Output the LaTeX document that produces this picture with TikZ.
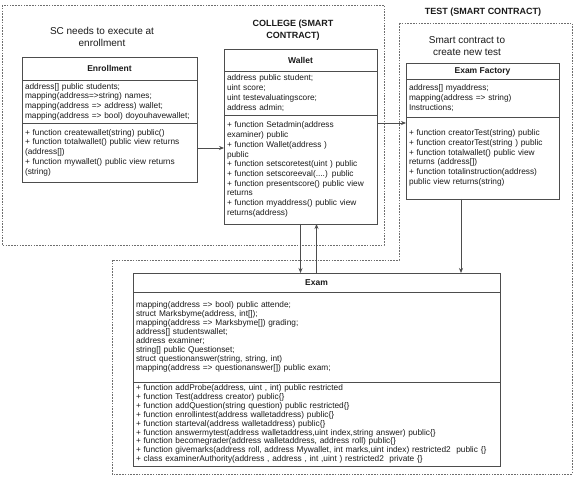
\documentclass[tikz,border=0pt]{standalone}
\usepackage{fontspec}
\setmainfont{Liberation Sans}
\usetikzlibrary{arrows.meta, positioning}
\definecolor{linegray}{HTML}{4D4D4D}
\definecolor{framegray}{HTML}{6E6E6E}
\definecolor{inkgray}{HTML}{1A1A1A}

\begin{document}
\begin{tikzpicture}[
    x=1pt, y=-1pt,
    classhead/.style={
        rectangle, draw=linegray, line width=0.8pt, outer sep=0pt, inner sep=0pt,
        minimum width=#1, anchor=north west, text=inkgray,
        font=\bfseries\fontsize{8.5}{10}\selectfont
    },
    classpart/.style={
        rectangle, draw=linegray, line width=0.8pt, outer sep=0pt,
        inner xsep=3pt, inner ysep=2pt, text width=#1, align=left, text=inkgray,
        font=\fontsize{8.3}{9.7}\selectfont
    },
    notetext/.style={font=\fontsize{10}{11.5}\selectfont, align=center, text=inkgray},
    contracttitle/.style={font=\bfseries\fontsize{9}{11.5}\selectfont, align=center, text=inkgray},
    contractframe/.style={draw=framegray, line width=0.7pt, dash pattern=on 1.6pt off 1.2pt},
    link/.style={-{Stealth[length=5pt, width=4pt]}, line width=0.8pt, draw=linegray},
]
\useasboundingbox (0,0) rectangle (574,492);

% Contract frames
\draw[contractframe] (2,5) rectangle (384,245);
\draw[contractframe] (399,23) -- (572,23) -- (572,474) -- (112,474) -- (112,260) -- (399,260) -- cycle;

% Titles
\node[notetext] (enrollNote) at (102,37) {SC needs to execute at\\enrollment};
\node[contracttitle] (collegeTitle) at (293,30) {COLLEGE (SMART\\CONTRACT)};
\node[contracttitle] (testTitle) at (483,12) {TEST (SMART CONTRACT)};
\node[notetext] (factNote) at (467,46) {Smart contract to\\create new test};

% Enrollment
\node[classhead=175pt, minimum height=23pt] (enrollHead) at (22,57) {Enrollment};
\node[classpart=169pt, minimum height=43pt, below=0pt of enrollHead] (enrollAttr) {%
address[] public students;\\
mapping(address=>string) names;\\
mapping(address => address) wallet;\\
mapping(address => bool) doyouhavewallet;};
\node[classpart=169pt, minimum height=59pt, below=0pt of enrollAttr] (enrollFunc) {%
+ function createwallet(string) public()\\
+ function totalwallet() public view returns\\
(address[])\\
+ function mywallet() public view returns\\
(string)};

% Wallet
\node[classhead=153pt, minimum height=22pt] (walletHead) at (224,49) {Wallet};
\node[classpart=147pt, minimum height=44pt, below=0pt of walletHead] (walletAttr) {%
address public student;\\
uint score;\\
uint testevaluatingscore;\\
address admin;};
\node[classpart=147pt, minimum height=109pt, below=0pt of walletAttr] (walletFunc) {%
+ function Setadmin(address\\
examiner) public\\
+ function Wallet(address )\\
public\\
+ function setscoretest(uint ) public\\
+ function setscoreeval(....) public\\
+ function presentscore() public view\\
returns\\
+ function myaddress() public view\\
returns(address)};

% Exam Factory
\node[classhead=153pt, minimum height=16pt] (factHead) at (406,63) {Exam Factory};
\node[classpart=147pt, minimum height=38pt, below=0pt of factHead] (factAttr) {%
address[] myaddress;\\
mapping(address => string)\\
Instructions;};
\node[classpart=147pt, minimum height=82pt, below=0pt of factAttr] (factFunc) {%
+ function creatorTest(string) public\\
+ function creatorTest(string ) public\\
+ function totalwallet() public view\\
returns (address[])\\
+ function totalinstruction(address)\\
public view returns(string)};

% Exam
\node[classhead=367pt, minimum height=19pt] (examHead) at (133,273) {Exam};
\node[classpart=361pt, minimum height=90pt, font=\fontsize{8.3}{8.9}\selectfont, below=0pt of examHead] (examAttr) {%
mapping(address => bool) public attende;\\
struct Marksbyme(address, int[]);\\
mapping(address => Marksbyme[]) grading;\\
address[] studentswallet;\\
address examiner;\\
string[] public Questionset;\\
struct questionanswer(string, string, int)\\
mapping(address => questionanswer[]) public exam;};
\node[classpart=361pt, minimum height=84pt, font=\fontsize{8.3}{8.9}\selectfont, below=0pt of examAttr] (examFunc) {%
+ function addProbe(address, uint , int) public restricted\\
+ function Test(address creator) public\{\}\\
+ function addQuestion(string question) public restricted\{\}\\
+ function enrollintest(address walletaddress) public\{\}\\
+ function starteval(address walletaddress) public\{\}\\
+ function answermytest(address walletaddress,uint index,string answer) public\{\}\\
+ function becomegrader(address walletaddress, address roll) public\{\}\\
+ function givemarks(address roll, address Mywallet, int marks,uint index) restricted2\ \ public \{\}\\
+ class examinerAuthority(address , address , int ,uint ) restricted2\ \ private \{\}};

% Connectors
\draw[link] ([yshift=4.5pt]enrollFunc.east) -- ([yshift=4.5pt]enrollFunc.east -| walletFunc.west);
\draw[link] ([yshift=-8pt]walletFunc.north east) -- ([yshift=-8pt]walletFunc.north east -| factFunc.west);
\draw[link] (walletFunc.south) -- (walletFunc.south |- examHead.north);
\draw[link] ([xshift=16pt]walletFunc.south |- examHead.north) -- ([xshift=16pt]walletFunc.south);
\draw[link] ([xshift=-21.5pt]factFunc.south) -- ([xshift=-21.5pt]factFunc.south |- examHead.north);

\end{tikzpicture}
\end{document}
